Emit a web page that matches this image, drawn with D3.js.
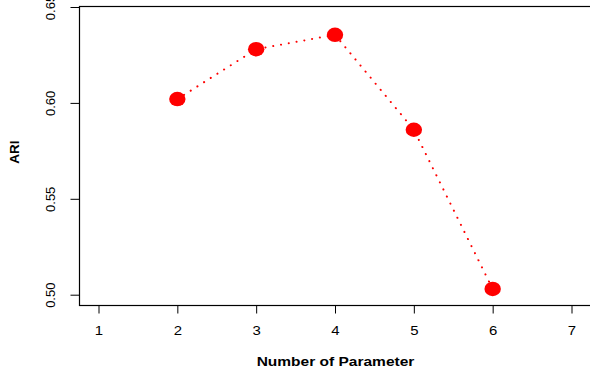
<!DOCTYPE html>
<html>
<head>
<meta charset="utf-8">
<script src="https://cdn.jsdelivr.net/npm/d3@7"></script>
<style>
  body { margin: 0; background: #fff; }
  .axis text { font-family: "Liberation Sans", Arial, sans-serif; font-size: 13px; fill: #000; }
  .axis path { display: none; }
  .axis line { stroke: #000; }
</style>
</head>
<body>
<div id="chart"></div>
<script>
// data
var params = [2, 3, 4, 5, 6];
var ari = [0.602, 0.628, 0.6355, 0.586, 0.503];
var xTicks = [1, 2, 3, 4, 5, 6, 7];
var yTicks = [0.50, 0.55, 0.60, 0.65];

var width = 590, height = 372;

// set the ranges
var x = d3.scaleLinear().domain([1, 7]).range([98.5, 571.5]);
var y = d3.scaleLinear().domain([0.50, 0.65]).range([294.7, 7]);

var svg = d3.select("#chart").append("svg")
    .attr("width", width)
    .attr("height", height);

// plot box (right side runs off the image)
svg.append("rect")
    .attr("x", 79.5).attr("y", 6.5)
    .attr("width", 540).attr("height", 299)
    .attr("fill", "none")
    .attr("stroke", "#000")
    .attr("stroke-width", 1.2);

// x axis
var xAxis = svg.append("g")
    .attr("class", "axis")
    .attr("transform", "translate(0,305.5)")
    .call(d3.axisBottom(x).tickValues(xTicks).tickSize(8).tickPadding(12).tickFormat(d3.format("d")));
// picture looks a bit stretched sideways
xAxis.selectAll(".tick text")
    .attr("transform", "scale(1.15,1)")
    .attr("x", 0);

// y axis, labels rotated like base R
var yAxis = svg.append("g")
    .attr("class", "axis")
    .attr("transform", "translate(79.5,0)")
    .call(d3.axisLeft(y).tickValues(yTicks).tickSize(9).tickFormat(d3.format(".2f")));
yAxis.selectAll(".tick text")
    .attr("x", 0).attr("y", 0).attr("dy", 0)
    .attr("text-anchor", "middle")
    .attr("dominant-baseline", "central")
    .attr("transform", "translate(-29,0) rotate(-90)");

// the dotted line
var line = d3.line()
    .x(function(d, i) { return x(params[i]); })
    .y(function(d) { return y(d); });

svg.append("path")
    .datum(ari)
    .attr("d", line)
    .attr("fill", "none")
    .attr("stroke", "red")
    .attr("stroke-width", 2)
    .attr("stroke-linecap", "round")
    .attr("stroke-dasharray", "0.1,7.8");

// points
svg.selectAll(".pt")
    .data(ari)
    .enter().append("ellipse")
    .attr("class", "pt")
    .attr("cx", function(d, i) { return x(params[i]); })
    .attr("cy", function(d) { return y(d); })
    .attr("rx", 8.2)
    .attr("ry", 7.2)
    .attr("fill", "red");

// axis titles
svg.append("text")
    .attr("transform", "translate(335.5,366) scale(1.15,1)")
    .attr("text-anchor", "middle")
    .style("font-family", "Liberation Sans, Arial, sans-serif")
    .style("font-weight", "bold")
    .style("font-size", "13.5px")
    .text("Number of Parameter");

svg.append("text")
    .attr("transform", "translate(19,152) rotate(-90)")
    .attr("text-anchor", "middle")
    .style("font-family", "Liberation Sans, Arial, sans-serif")
    .style("font-weight", "bold")
    .style("font-size", "13.5px")
    .text("ARI");
</script>
</body>
</html>
